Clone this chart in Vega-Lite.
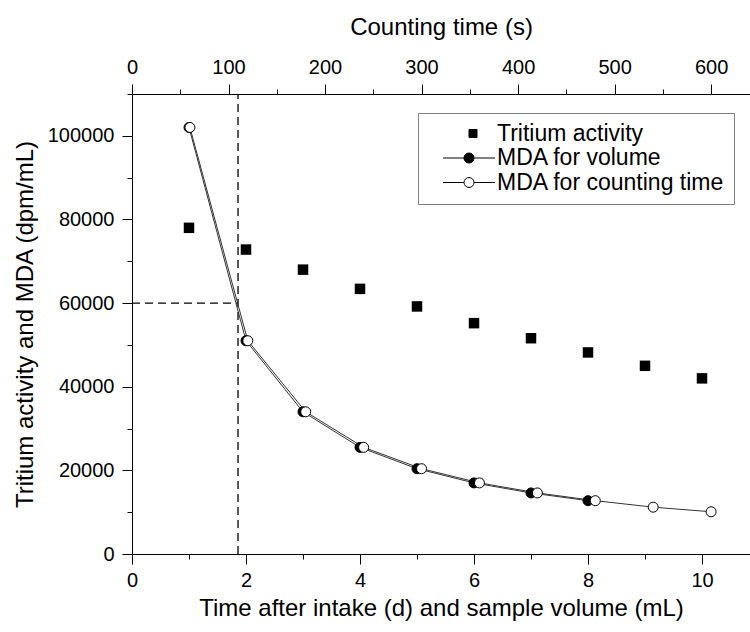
{
  "$schema": "https://vega.github.io/schema/vega-lite/v6.json",
  "width": 618,
  "height": 460,
  "autosize": {"type": "none"},
  "padding": {"left": 132, "top": 94, "right": 0, "bottom": 78},
  "background": "white",
  "config": {
    "view": {"stroke": null},
    "font": "Liberation Sans",
    "axis": {
      "domainColor": "black", "tickColor": "black", "labelColor": "black", "titleColor": "black",
      "labelFont": "Liberation Sans", "titleFont": "Liberation Sans",
      "labelFontSize": 20, "titleFontSize": 24, "titleFontWeight": "normal",
      "grid": false, "domainWidth": 1, "tickWidth": 1, "labelOverlap": false, "labelFlush": false
    }
  },
  "datasets": {
    "activity": [
      {"x": 1, "y": 78000}, {"x": 2, "y": 72800}, {"x": 3, "y": 68000}, {"x": 4, "y": 63400},
      {"x": 5, "y": 59200}, {"x": 6, "y": 55200}, {"x": 7, "y": 51600}, {"x": 8, "y": 48200},
      {"x": 9, "y": 45000}, {"x": 10, "y": 42000}
    ],
    "mdaVolume": [
      {"x": 1, "y": 102000}, {"x": 2, "y": 51000}, {"x": 3, "y": 34000}, {"x": 4, "y": 25500},
      {"x": 5, "y": 20400}, {"x": 6, "y": 17000}, {"x": 7, "y": 14600}, {"x": 8, "y": 12750}
    ],
    "mdaTime": [
      {"t": 60, "y": 102000}, {"t": 120, "y": 51000}, {"t": 180, "y": 34000}, {"t": 240, "y": 25500},
      {"t": 300, "y": 20400}, {"t": 360, "y": 17000}, {"t": 420, "y": 14600}, {"t": 480, "y": 12750},
      {"t": 540, "y": 11200}, {"t": 600, "y": 10100}
    ],
    "guides": [
      {"x": 1.86, "x2": 1.86, "y": 0, "y2": 110000},
      {"x": 0, "x2": 1.86, "y": 60000, "y2": 60000}
    ],
    "legendItems": [
      {"series": "Tritium activity", "x": 5, "y": 50000},
      {"series": "MDA for volume", "x": 5, "y": 50000},
      {"series": "MDA for counting time", "x": 5, "y": 50000}
    ]
  },
  "layer": [
    {
      "data": {"name": "guides"},
      "mark": {"type": "rule", "color": "black", "strokeWidth": 1.3, "strokeDash": [8, 5]},
      "encoding": {
        "x": {
          "field": "x", "type": "quantitative",
          "scale": {"domain": [0, 10.842], "nice": false, "zero": false},
          "axis": {
            "orient": "bottom", "title": "Time after intake (d) and sample volume (mL)",
            "values": [0, 1, 2, 3, 4, 5, 6, 7, 8, 9, 10], "format": "d",
            "labelExpr": "datum.value % 2 === 0 ? datum.label : ''",
            "tickSize": {"condition": {"test": "datum.value % 2 === 0", "value": 10}, "value": 5},
            "labelPadding": 6, "titlePadding": 6
          }
        },
        "x2": {"field": "x2"},
        "y": {
          "field": "y", "type": "quantitative",
          "scale": {"domain": [0, 110000], "nice": false, "zero": false},
          "axis": {
            "orient": "left", "title": "Tritium activity and MDA (dpm/mL)",
            "values": [0, 10000, 20000, 30000, 40000, 50000, 60000, 70000, 80000, 90000, 100000, 110000],
            "format": "d",
            "labelExpr": "datum.value % 20000 === 0 ? datum.label : ''",
            "tickSize": {"condition": {"test": "datum.value % 20000 === 0", "value": 10}, "value": 5},
            "labelPadding": 8, "titlePadding": 10
          }
        },
        "y2": {"field": "y2"}
      }
    },
    {
      "data": {"name": "mdaVolume"},
      "mark": {"type": "line", "color": "#333333", "strokeWidth": 1},
      "encoding": {
        "x": {"field": "x", "type": "quantitative", "scale": {"domain": [0, 10.842], "nice": false, "zero": false}, "axis": null},
        "y": {"field": "y", "type": "quantitative"}
      }
    },
    {
      "data": {"name": "mdaTime"},
      "mark": {"type": "line", "color": "#333333", "strokeWidth": 1},
      "encoding": {
        "x": {
          "field": "t", "type": "quantitative",
          "scale": {"domain": [0, 640.3], "nice": false, "zero": false},
          "axis": {
            "orient": "top", "title": "Counting time (s)",
            "values": [0, 50, 100, 150, 200, 250, 300, 350, 400, 450, 500, 550, 600], "format": "d",
            "labelExpr": "datum.value % 100 === 0 ? datum.label : ''",
            "tickSize": {"condition": {"test": "datum.value % 100 === 0", "value": 10}, "value": 5},
            "labelPadding": 7, "titlePadding": 18
          }
        },
        "y": {"field": "y", "type": "quantitative"}
      }
    },
    {
      "data": {"name": "activity"},
      "mark": {"type": "point", "shape": "square", "filled": true, "color": "black", "size": 110, "opacity": 1},
      "encoding": {
        "x": {"field": "x", "type": "quantitative", "scale": {"domain": [0, 10.842], "nice": false, "zero": false}, "axis": null},
        "y": {"field": "y", "type": "quantitative"}
      }
    },
    {
      "data": {"name": "mdaVolume"},
      "mark": {"type": "circle", "fill": "black", "stroke": "black", "strokeWidth": 1, "size": 100, "opacity": 1},
      "encoding": {
        "x": {"field": "x", "type": "quantitative", "scale": {"domain": [0, 10.842], "nice": false, "zero": false}, "axis": null},
        "y": {"field": "y", "type": "quantitative"}
      }
    },
    {
      "data": {"name": "mdaTime"},
      "mark": {"type": "circle", "fill": "white", "stroke": "black", "strokeWidth": 1, "size": 100, "opacity": 1},
      "encoding": {
        "x": {"field": "t", "type": "quantitative", "scale": {"domain": [0, 640.3], "nice": false, "zero": false}, "axis": null},
        "y": {"field": "y", "type": "quantitative"}
      }
    },
    {
      "data": {"name": "legendItems"},
      "mark": {"type": "point", "filled": true, "opacity": 0},
      "encoding": {
        "x": {"field": "x", "type": "quantitative", "scale": {"domain": [0, 10.842], "nice": false, "zero": false}, "axis": null},
        "y": {"field": "y", "type": "quantitative"},
        "shape": {
          "field": "series", "type": "nominal",
          "scale": {
            "domain": ["Tritium activity", "MDA for volume", "MDA for counting time"],
            "range": [
              "M0,-0.364H0.727V0.364H0Z",
              "M-2.364,0H-0.4545M0.4545,0H2.364M-0.4545,0A0.4545,0.4545 0 1,0 0.4545,0A0.4545,0.4545 0 1,0 -0.4545,0Z",
              "M-2.364,0H-0.4545M0.4545,0H2.364M-0.4545,0A0.4545,0.4545 0 1,0 0.4545,0A0.4545,0.4545 0 1,0 -0.4545,0Z"
            ]
          },
          "legend": {
            "title": null, "orient": "none", "legendX": 286, "legendY": 19,
            "symbolSize": 484, "symbolStrokeColor": "black", "symbolStrokeWidth": 1, "symbolOpacity": 1,
            "symbolOffset": 30.5, "labelOffset": 16.5, "labelFontSize": 23, "labelFont": "Liberation Sans",
            "labelColor": "black", "labelLimit": 400, "padding": 9, "rowPadding": 0.5,
            "strokeColor": "#808080", "fillColor": "white", "labelBaseline": "middle",
            "labelExpr": "datum.label === 'Tritium activity' ? '\u2009\u2009' + datum.label : datum.label",
            "encode": {"symbols": {"update": {"stroke": {"value": "black"}, "strokeWidth": {"value": 1}, "opacity": {"value": 1}}}}
          }
        },
        "fill": {
          "field": "series", "type": "nominal",
          "scale": {
            "domain": ["Tritium activity", "MDA for volume", "MDA for counting time"],
            "range": ["black", "black", "white"]
          },
          "legend": {
            "title": null, "orient": "none", "legendX": 286, "legendY": 19,
            "symbolSize": 484, "symbolStrokeColor": "black", "symbolStrokeWidth": 1, "symbolOpacity": 1,
            "symbolOffset": 30.5, "labelOffset": 16.5, "labelFontSize": 23, "labelFont": "Liberation Sans",
            "labelColor": "black", "labelLimit": 400, "padding": 9, "rowPadding": 0.5,
            "strokeColor": "#808080", "fillColor": "white", "labelBaseline": "middle",
            "labelExpr": "datum.label === 'Tritium activity' ? '\u2009\u2009' + datum.label : datum.label",
            "encode": {"symbols": {"update": {"stroke": {"value": "black"}, "strokeWidth": {"value": 1}, "opacity": {"value": 1}}}}
          }
        }
      }
    }
  ],
  "resolve": {"scale": {"x": "independent"}, "axis": {"x": "independent"}}
}
